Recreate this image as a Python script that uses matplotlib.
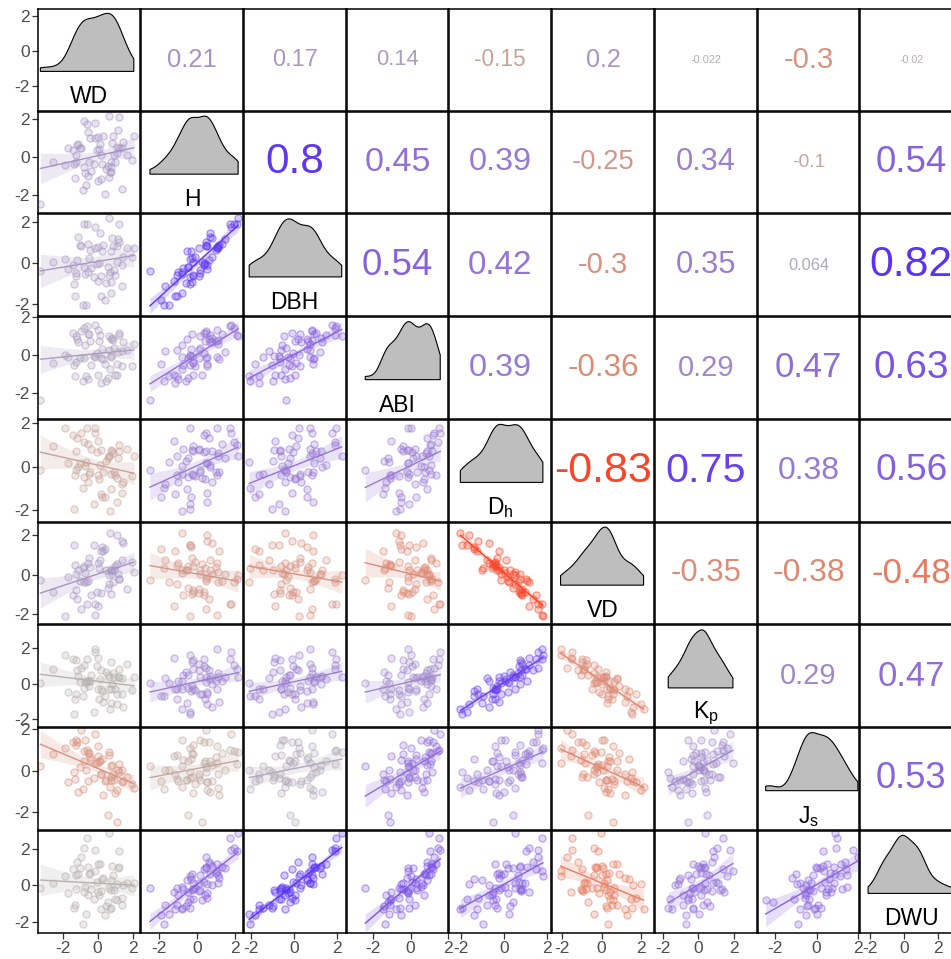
import numpy as np
import matplotlib
matplotlib.use("Agg")
import matplotlib.pyplot as plt
from matplotlib.transforms import blended_transform_factory

plt.rcParams['font.family'] = ['Liberation Sans', 'DejaVu Sans']
plt.rcParams['mathtext.fontset'] = 'custom'
plt.rcParams['mathtext.rm'] = 'Liberation Sans'
plt.rcParams['mathtext.it'] = 'Liberation Sans:italic'

# ---------------- data (standardised values) -------------
var_names = ["WD", "H", "DBH", "ABI", "Dh", "VD", "Kp", "Js", "DWU"]
var_labels = ["WD", "H", "DBH", "ABI", r"D$_\mathrm{h}$", "VD", r"K$_\mathrm{p}$",
              r"J$_\mathrm{s}$", "DWU"]

WD = [-0.57, 0.76, 0.23, -1.28, 1.66, 0.09, -0.79, 0.05, -1.7, 1.11,
      -0.73, 1.18, 0.4, -1.42, 1.13, -0.14, -0.19, 2.07, -1.87, 0.68,
      0.74, -0.5, -0.53, 1.22, -0.66, 1.41, -1.1, -0.05, -0.94, 1.0,
      -2.55, 0.7, 0.84, -1.22, -0.14, 1.4, 0.31, -1.24, 0.75, 0.68,
      -0.44, 0.6, -0.59, 0.22, 1.48, -1.0, 0.91, -1.18, 0.48, 0.13,
      -1.37, 0.89, -0.4, 1.96, -0.86, 0.05, 0.21, -0.78, 1.25, -3.27]
H = [1.32, -0.28, -0.34, -1.08, 0.1, 0.43, 1.92, -1.24, 0.5, 0.53,
     -0.83, 1.45, -1.93, 0.37, 0.24, 1.78, -0.37, 1.11, -0.39, 2.16,
     -0.8, -0.26, -1.01, 0.47, -1.49, 0.49, 0.7, 0.36, 0.48, -0.25,
     -0.24, -0.8, 0.76, 0.13, 1.03, -1.69, 1.14, -0.23, -0.53, -1.07,
     1.01, -0.49, 1.73, -1.16, 0.8, 0.47, 0.14, 0.64, -0.62, 0.69,
     -0.38, 1.1, -0.74, -0.13, -1.74, 1.05, 0.09, -0.51, 2.1, -2.5]
DBH = [0.93, -0.92, 0.57, -1.65, 0.73, 0.02, 1.91, -0.89, -0.3, 0.85,
       -0.55, 1.2, -1.82, -0.12, 0.03, 1.75, -0.71, 0.74, 0.21, 2.2,
       -1.47, 0.26, -0.44, 1.01, -2.09, -0.11, 1.27, -0.06, 0.82, -0.6,
       0.07, -0.43, 1.24, -0.48, 0.75, -1.16, 0.89, -0.65, 0.58, -0.61,
       0.64, -0.19, 1.92, -1.64, 0.3, 0.91, -0.37, 0.16, -0.98, 1.46,
       -1.02, 0.83, -0.26, 0.28, -2.06, 0.8, -0.64, -0.21, 1.9, -0.38]
ABI = [1.1, -0.08, 0.3, -1.11, 0.23, 0.71, 1.43, -1.05, -0.12, -0.51,
       0.54, 0.13, -0.5, 1.18, -1.08, 1.57, -0.08, 0.59, 0.0, 0.99,
       -0.09, 1.09, -1.28, 1.15, -1.14, -0.59, 0.7, 0.1, 1.26, -1.05,
       -0.41, -0.77, 0.89, 1.0, -0.13, 0.22, -0.21, -0.38, 0.86, 0.27,
       0.74, -1.22, 1.51, -1.47, 0.68, -0.16, 0.35, 0.86, -1.39, 1.07,
       -0.55, 0.81, -0.52, -0.61, -1.36, 1.33, -0.18, -0.15, 1.05, -2.4]
Dh = [1.05, 0.76, -1.39, -0.4, 0.82, -0.57, 1.14, 1.17, 0.16, -1.64,
      0.03, 0.41, -1.38, 1.47, -0.51, 1.58, -1.72, 0.51, 1.79, 0.49,
      -0.32, -0.33, -0.7, 0.72, 0.23, -1.22, -0.01, 0.69, 1.57, -0.38,
      0.98, -2.02, 0.72, -0.13, 1.77, -0.79, -0.25, 0.74, -1.01, 0.49,
      -0.25, 0.4, 1.77, -1.27, -0.72, 0.19, -0.24, 1.32, 0.28, 0.09,
      -1.93, 0.64, 0.81, -0.42, -0.97, -0.4, 0.76, -0.49, 1.01, -0.14]
VD = [-0.33, -0.98, 1.4, 0.5, -0.74, 0.32, -0.38, -1.57, -0.12, 2.01,
      0.1, 0.06, 1.29, -1.0, 0.56, -1.48, 1.49, 0.14, -2.08, -0.02,
      0.25, 0.87, 0.61, -0.23, -0.38, 1.73, 0.24, -0.85, -1.75, 0.43,
      -0.89, 2.12, 0.02, 0.02, -2.04, 0.76, 1.19, -0.77, 0.26, -0.48,
      0.38, -0.67, -1.48, 1.19, 1.6, -0.3, 0.23, -1.22, 0.24, 0.76,
      1.51, -0.38, -1.03, 0.63, 0.33, 0.59, -0.93, 0.44, -0.21, -0.25]
Kp = [0.16, 1.21, -0.4, -0.88, 1.09, -0.86, 1.04, 1.43, -0.47, -1.15,
      0.17, 0.35, -0.72, 1.41, -0.57, 1.78, -1.62, 0.39, 1.63, 0.4,
      -0.3, -0.12, 0.13, 0.37, 0.06, -0.58, 0.45, 1.02, 0.87, -0.33,
      0.85, -1.46, -0.03, -0.56, 1.96, 0.29, -1.06, 1.32, -1.07, -0.29,
      0.16, 0.48, 1.4, -0.29, -1.3, 0.09, 0.35, 0.79, 0.65, 0.28,
      -1.7, 0.59, 0.49, -0.35, -0.71, -0.3, 0.79, -0.26, 0.85, 0.02]
Js = [0.83, -0.3, 0.58, -0.4, -0.29, 0.47, 0.94, 0.71, -0.56, -0.94,
      1.46, 0.03, -0.51, 1.4, -2.45, 1.76, -0.37, -0.82, 1.11, 0.9,
      0.22, 0.86, -0.5, -0.04, 0.02, -0.56, -1.01, 0.39, 1.98, -1.07,
      0.82, -0.79, 0.29, 1.46, 0.37, 0.05, -1.18, 1.24, -0.43, 0.75,
      0.64, -2.11, 0.99, -0.14, -0.49, 0.18, -0.44, 1.36, -0.46, 0.49,
      -0.08, -0.17, 0.53, -0.64, -0.89, 1.18, -0.17, 0.46, 0.3, 0.23]
DWU = [0.99, -0.24, 0.37, -1.06, 0.13, -0.52, 2.08, -0.38, -0.44, 0.06,
       -0.07, 0.93, -1.64, 0.88, -0.79, 1.93, -0.76, 0.13, 0.54, 2.86,
       -1.25, 0.63, -0.51, 1.03, -1.56, -0.7, 0.63, 0.21, 1.56, -0.73,
       0.11, -1.29, 1.09, 0.55, 0.8, -1.09, 0.42, -0.19, 0.29, -0.14,
       0.69, -0.94, 2.6, -1.31, 0.04, 0.93, -0.26, 1.3, -1.13, 1.16,
       -1.27, 0.59, -0.19, -0.15, -2.13, 1.18, -0.31, -0.39, 1.9, -0.12]

# Correlations printed in the upper triangle (row-major, i < j)
cor_WD = [0.21, 0.17, 0.14, -0.15, 0.2, -0.022, -0.3, -0.02]
cor_H = [0.8, 0.45, 0.39, -0.25, 0.34, -0.1, 0.54]
cor_DBH = [0.54, 0.42, -0.3, 0.35, 0.064, 0.82]
cor_ABI = [0.39, -0.36, 0.29, 0.47, 0.63]
cor_Dh = [-0.83, 0.75, 0.38, 0.56]
cor_VD = [-0.35, -0.38, -0.48]
cor_Kp = [0.29, 0.47]
cor_Js = [0.53]

tick_values = [-2, 0, 2]
tick_labels = ["-2", "0", "2"]

# ---------------- helpers --------------------------------------------------------------
data = [np.array(v, float) for v in (WD, H, DBH, ABI, Dh, VD, Kp, Js, DWU)]
nv = len(data)
R = np.eye(nv)
for i, row in enumerate([cor_WD, cor_H, cor_DBH, cor_ABI, cor_Dh, cor_VD, cor_Kp, cor_Js]):
    for k, v in enumerate(row):
        j = i + 1 + k
        R[i, j] = R[j, i] = v

_M = np.array([[0.4124564, 0.3575761, 0.1804375],
               [0.2126729, 0.7151522, 0.0721750],
               [0.0193339, 0.1191920, 0.9503041]])
_W = np.array([0.95047, 1.0, 1.08883])
_d = 6 / 29


def _rgb2lab(rgb):
    c = np.asarray(rgb, float)
    lin = np.where(c <= 0.04045, c / 12.92, ((c + 0.055) / 1.055) ** 2.4)
    xyz = _M @ lin / _W
    f = np.where(xyz > _d ** 3, np.cbrt(xyz), xyz / (3 * _d ** 2) + 4 / 29)
    return np.array([116 * f[1] - 16, 500 * (f[0] - f[1]), 200 * (f[1] - f[2])])


def _lab2rgb(lab):
    L, a, b = lab
    fy = (L + 16) / 116
    f = np.array([fy + a / 500, fy, fy - b / 200])
    xyz = np.where(f > _d, f ** 3, 3 * _d ** 2 * (f - 4 / 29)) * _W
    lin = np.linalg.solve(_M, xyz)
    lin = np.clip(lin, 0, 1)
    c = np.where(lin <= 0.0031308, 12.92 * lin, 1.055 * lin ** (1 / 2.4) - 0.055)
    return tuple(np.clip(c, 0, 1))


LAB_LOW = _rgb2lab([1.0, 0.0, 0.0])
LAB_MID = _rgb2lab([0.70, 0.70, 0.70])
LAB_HIGH = _rgb2lab([0.0, 0.0, 1.0])


def cor_color(r):
    t = min(abs(r), 1.0)
    end = LAB_HIGH if r >= 0 else LAB_LOW
    return _lab2rgb(LAB_MID + t * (end - LAB_MID))


def kde(x, grid):
    x = np.asarray(x)
    n = len(x)
    sd = x.std(ddof=1)
    iqr = np.subtract(*np.percentile(x, [75, 25]))
    bw = 0.9 * min(sd, iqr / 1.34) * n ** (-0.2)
    z = (grid[:, None] - x[None, :]) / bw
    return np.exp(-0.5 * z ** 2).sum(axis=1) / (n * bw * np.sqrt(2 * np.pi))


# axis limits per variable (x for the column, y for the row)
xlims = [(-3.39, 2.43), (-2.97, 2.41), (-2.34, 2.38), (-3.39, 1.91), (-2.53, 2.17),
         (-2.51, 2.64), (-2.46, 3.30), (-2.84, 2.05), (-2.59, 3.43)]
ylims = list(xlims)
ylims[2] = (-2.62, 2.4)
ylims[8] = (-2.6, 3.0)

# ---------------- figure ---------------------------------------------------------------
W, Hh = 951, 959
fig = plt.figure(figsize=(W / 100, Hh / 100), dpi=100)
fig.patch.set_facecolor("white")
x0, y0, pitch, size = 38.3, 8.8, 102.75, 101.8
TXT = "#4D4D4D"

for i in range(nv):
    for j in range(nv):
        left = x0 + j * pitch
        top = y0 + i * pitch
        ax = fig.add_axes([left / W, 1 - (top + size) / Hh, size / W, size / Hh])
        ax.set_xlim(*xlims[j])
        ax.set_ylim(*ylims[i])
        for s in ax.spines.values():
            s.set_color("black")
            s.set_linewidth(1.1)
        ax.set_facecolor("white")

        if i == j:
            x = data[i]
            grid = np.linspace(x.min(), x.max(), 300)
            d = kde(x, grid)
            base, topf = 0.385, 0.955
            yy = base + d / d.max() * (topf - base)
            tr = blended_transform_factory(ax.transData, ax.transAxes)
            px = np.concatenate([[grid[0]], grid, [grid[-1]]])
            py = np.concatenate([[base], yy, [base]])
            ax.fill(px, py, facecolor="#BEBEBE", edgecolor="black", lw=0.8,
                    transform=tr, zorder=2)
            ax.text(0.5, 0.135, var_labels[i], transform=ax.transAxes,
                    ha="center", va="center", fontsize=16.5, color="black")
        elif i < j:
            r = R[i, j]
            ax.text(0.5, 0.5, f"{r:.2g}", transform=ax.transAxes, ha="center",
                    va="center", color=cor_color(r),
                    fontsize=33.2 * abs(r) ** 0.376)
        else:
            r = R[i, j]
            col = cor_color(r)
            x, y = data[j], data[i]
            n = len(x)
            b1, b0 = np.polyfit(x, y, 1)
            res = y - (b0 + b1 * x)
            s = np.sqrt((res ** 2).sum() / (n - 2))
            sxx = ((x - x.mean()) ** 2).sum()
            gx = np.linspace(x.min(), x.max(), 80)
            gy = b0 + b1 * gx
            se = s * np.sqrt(1 / n + (gx - x.mean()) ** 2 / sxx)
            tq = 2.0
            ax.scatter(x, y, s=26, facecolors=[(*col, 0.25)],
                       edgecolors=[(*col, 0.5)], linewidths=0.9, zorder=2)
            ax.fill_between(gx, gy - tq * se, gy + tq * se, color=col, alpha=0.2,
                            lw=0, zorder=3)
            ax.plot(gx, gy, color=col, lw=1.0, zorder=4)

        ax.set_xticks(tick_values)
        ax.set_yticks(tick_values)
        if j == 0:
            ax.set_yticklabels(tick_labels)
            ax.tick_params(axis="y", length=4, width=0.9, color="#333333",
                           labelsize=12.5, labelcolor=TXT, pad=2)
        else:
            ax.tick_params(axis="y", left=False, labelleft=False)
        if i == nv - 1:
            ax.set_xticklabels(tick_labels)
            ax.tick_params(axis="x", length=4, width=0.9, color="#333333",
                           labelsize=12.5, labelcolor=TXT, pad=2)
        else:
            ax.tick_params(axis="x", bottom=False, labelbottom=False)

fig.savefig("out.png", dpi=100, facecolor="white")
